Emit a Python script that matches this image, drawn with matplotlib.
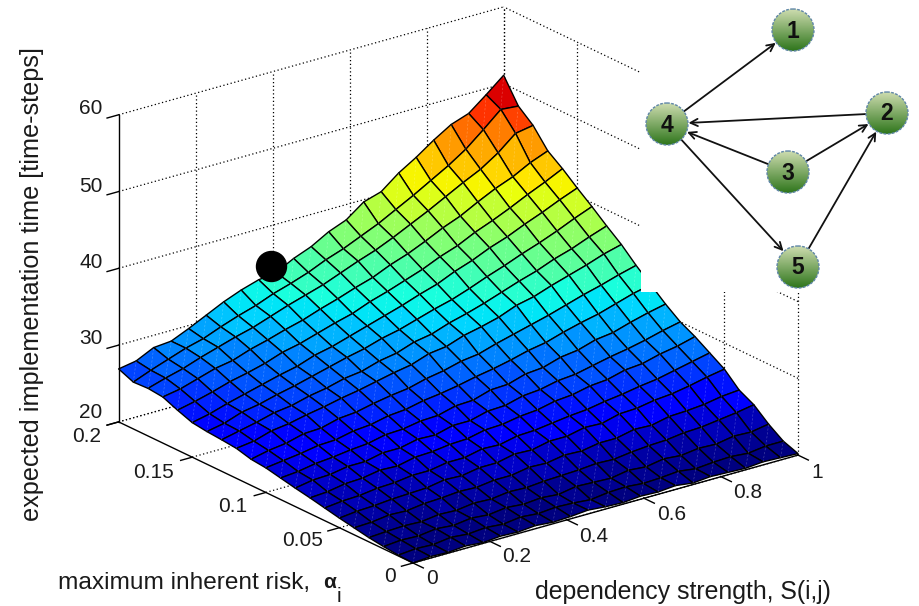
import matplotlib
matplotlib.use('Agg')
import matplotlib.pyplot as plt
import numpy as np
from matplotlib.patches import Circle, Rectangle
from mpl_toolkits.mplot3d import proj3d
from mpl_toolkits.mplot3d.art3d import Line3DCollection

plt.rcParams['font.family'] = ['Liberation Sans', 'DejaVu Sans']

# surface grid
dep_strength = [0.0, 0.0455, 0.0909, 0.1364, 0.1818, 0.2273, 0.2727, 0.3182, 0.3636, 0.4091, 0.4545, 0.5,
                0.5455, 0.5909, 0.6364, 0.6818, 0.7273, 0.7727, 0.8182, 0.8636, 0.9091, 0.9545, 1.0]
max_risk = [0.0, 0.01, 0.02, 0.03, 0.04, 0.05, 0.06, 0.07, 0.08, 0.09, 0.1,
            0.11, 0.12, 0.13, 0.14, 0.15, 0.16, 0.17, 0.18, 0.19, 0.2]

# expected time, one row per max_risk value
impl_time = [
    [20.0,20.2,20.1,20.3,20.1,20.3,20.2,20.4,20.2,20.3,20.5,20.3,20.2,20.4,20.3,20.5,20.2,20.4,20.3,20.2,20.4,20.3,20.2],
    [20.1,20.3,20.2,20.5,20.3,20.5,20.3,20.6,20.4,20.6,20.5,20.3,20.6,20.7,20.5,20.6,20.8,20.5,20.7,20.8,20.6,20.9,20.9],
    [20.3,20.5,20.4,20.7,20.5,20.8,20.6,20.9,20.7,20.9,20.7,21.1,21.0,20.9,21.3,21.1,21.5,21.3,21.6,21.5,21.9,21.8,22.2],
    [20.55,20.7,20.8,20.7,21.0,20.9,21.2,21.1,21.4,21.3,21.5,21.6,21.7,21.9,21.8,22.1,22.3,22.4,22.7,22.8,23.1,23.4,23.8],
    [20.9,21.0,21.3,21.2,21.5,21.6,21.8,21.7,22.0,22.0,22.4,22.3,22.7,22.6,23.0,23.0,23.5,23.4,23.9,24.0,24.2,24.6,24.8],
    [21.25,21.5,21.6,21.8,21.9,22.0,22.4,22.3,22.7,22.7,23.2,23.1,23.6,23.6,24.1,24.0,24.6,24.7,25.1,25.3,25.7,26.2,26.6],
    [21.65,21.9,22.0,22.3,22.4,22.7,22.7,23.1,23.1,23.6,23.5,24.0,24.1,24.4,24.7,24.9,25.3,25.6,26.0,26.3,26.8,27.3,27.8],
    [22.05,22.2,22.6,22.7,23.1,23.0,23.5,23.6,23.9,24.0,24.5,24.6,25.0,25.2,25.7,25.9,26.4,26.6,27.2,27.4,28.0,28.4,29.0],
    [22.4,22.8,22.9,23.3,23.3,23.8,23.8,24.3,24.2,24.8,24.8,25.4,25.5,26.1,26.3,26.8,27.0,27.5,28.0,28.4,28.9,29.5,30.0],
    [22.8,23.0,23.4,23.6,23.9,24.1,24.6,24.7,25.1,25.2,25.8,25.9,26.6,26.7,27.4,27.6,28.3,28.6,29.3,29.6,30.3,30.9,31.4],
    [23.2,23.5,23.8,24.2,24.3,24.8,25.0,25.5,25.7,26.2,26.5,26.9,27.4,27.8,28.3,28.9,29.3,30.0,30.6,31.1,31.8,32.5,33.0],
    [23.4,23.9,24.2,24.8,24.9,25.5,25.7,26.2,26.6,26.9,27.5,27.9,28.5,28.8,29.5,30.1,30.7,31.3,32.0,32.7,33.3,34.0,34.6],
    [23.9,24.2,24.9,25.2,25.7,26.1,26.6,27.0,27.5,28.0,28.4,29.2,29.5,30.3,30.8,31.4,32.3,32.8,33.6,34.3,35.0,35.8,36.4],
    [24.1,24.6,25.1,25.7,26.0,26.6,27.0,27.6,27.9,28.6,29.0,29.8,30.2,31.0,31.6,32.3,33.1,33.9,34.6,35.5,36.2,37.1,37.9],
    [24.25,24.7,25.5,25.9,26.5,27.0,27.6,28.2,28.8,29.3,30.0,30.5,31.2,31.9,32.5,33.3,34.2,35.0,35.9,36.7,37.6,38.6,39.5],
    [24.5,25.0,25.7,26.3,26.9,27.5,28.0,28.8,29.3,30.0,30.7,31.4,32.1,32.9,33.6,34.6,35.4,36.4,37.2,38.2,39.1,40.1,41.0],
    [25.2,25.7,26.3,27.0,27.5,28.1,28.9,29.4,30.1,30.8,31.4,32.3,33.0,33.8,34.6,35.6,36.4,37.5,38.4,39.4,40.5,41.5,42.6],
    [26.0,26.4,27.1,27.8,28.2,29.0,29.6,30.3,30.9,31.7,32.4,33.2,33.9,34.9,35.7,36.7,37.8,38.7,39.9,41.0,41.9,43.1,44.0],
    [26.2,26.9,27.5,28.3,29.0,29.7,30.3,31.1,31.9,32.6,33.3,34.2,35.1,35.9,36.9,38.0,39.1,40.3,41.5,42.6,44.1,46.0,46.4],
    [26.1,27.0,27.8,28.6,29.2,30.1,30.9,31.6,32.5,33.2,34.0,35.0,35.8,36.8,37.8,39.0,40.2,41.5,42.8,44.3,46.2,48.2,48.0],
    [26.9,27.3,28.4,28.6,29.6,30.7,31.8,32.7,33.4,33.7,34.9,35.8,37.1,38.0,39.7,40.4,42.2,43.6,45.2,46.6,47.4,49.2,51.1],
]

s_ticks = [0, 0.2, 0.4, 0.6, 0.8, 1]
risk_ticks = [0, 0.05, 0.1, 0.15, 0.2]
z_ticks = [20, 30, 40, 50, 60]

# the marked point on the surface
dot_s, dot_risk, dot_time = 0.397, 0.2, 34.75

# small graph in the corner
node_names = ['1', '2', '3', '4', '5']
node_x = [793, 887, 788, 667, 798]
node_y = [30, 113, 172, 124, 267]
edges = [('4', '1'), ('2', '4'), ('3', '4'), ('3', '2'), ('5', '2'), ('4', '5')]

W, H = 919, 606
fig = plt.figure(figsize=(W / 100, H / 100), dpi=100)
side = 1000
ax = fig.add_axes([(W - side) / 2 / W, (H - side) / 2 / H, side / W, side / H],
                  projection='3d', proj_type='ortho', computed_zorder=False)
ax.set_axis_off()
ax.patch.set_visible(False)
ax.set_xlim(0, 1)
ax.set_ylim(0, 0.2)
ax.set_zlim(20, 60)
ax.view_init(elev=21.5, azim=232.6)
ax.set_box_aspect((1, 1, 0.681), zoom=1)


def to_px(x, y, z):
    xp, yp, _ = proj3d.proj_transform(x, y, z, ax.get_proj())
    return ax.transData.transform((xp, yp))


# fit the box to the picture: origin corner and length of the S axis
fig.canvas.draw()
p0, p1 = to_px(0, 0, 20), to_px(1, 0, 20)
ax.set_box_aspect((1, 1, 0.681), zoom=np.hypot(385, 108) / np.hypot(*(p1 - p0)))
fig.canvas.draw()
p0 = to_px(0, 0, 20)
pos = ax.get_position()
ax.set_position([pos.x0 + (413 - p0[0]) / W, pos.y0 + (H - 563 - p0[1]) / H, pos.width, pos.height])

dot_style = dict(color='k', lw=0.9, ls=(0, (1, 2)), zorder=1, clip_on=False)
for s in s_ticks[1:]:
    ax.plot([s, s], [0.2, 0.2], [20, 60], **dot_style)
    ax.plot([s, s], [0, 0.2], [20, 20], **dot_style)
for r in risk_ticks:
    ax.plot([1, 1], [r, r], [20, 60], **dot_style)
    ax.plot([0, 1], [r, r], [20, 20], **dot_style)
for z in z_ticks:
    ax.plot([0, 1], [0.2, 0.2], [z, z], **dot_style)
    ax.plot([1, 1], [0, 0.2], [z, z], **dot_style)

X, Y = np.meshgrid(dep_strength, max_risk)
Z = np.array(impl_time)
jet = plt.get_cmap('jet', 64)
face_cols = jet((Z - 20) / (51 - 20))
surf = ax.plot_surface(X, Y, Z, facecolors=face_cols, rstride=1, cstride=1, shade=False,
                       linewidth=1.0, antialiased=True, zorder=2)
surf.set_edgecolor('k')

# thin light seam across each cell
seams = []
for i in range(Z.shape[0] - 1):
    for j in range(Z.shape[1] - 1):
        seams.append([(X[i, j], Y[i, j], Z[i, j]), (X[i + 1, j + 1], Y[i + 1, j + 1], Z[i + 1, j + 1])])
ax.add_collection3d(Line3DCollection(seams, colors='w', linewidths=0.4, alpha=0.3, zorder=3,
                                     linestyles=(0, (4, 3))))

# solid axis lines and ticks
line_style = dict(color='k', lw=1.0, zorder=4, clip_on=False)
ax.plot([0, 0], [0, 0.2], [20, 20], **line_style)
ax.plot([0, 1], [0, 0], [20, 20], **line_style)
ax.plot([0, 0], [0.2, 0.2], [20, 60], **line_style)
for s in s_ticks:
    ax.plot([s, s], [0, -0.007], [20, 20], **line_style)
for r in risk_ticks:
    ax.plot([0, -0.03], [r, r], [20, 20], **line_style)
for z in z_ticks:
    ax.plot([0, -0.03], [0.2, 0.2], [z, z], **line_style)

ax.plot([dot_s], [dot_risk], [dot_time], 'o', color='k', ms=21.6, mec='k', zorder=6, clip_on=False)

# overlay in picture pixels for the labels and the small graph
ov = fig.add_axes([0, 0, 1, 1])
ov.set_xlim(0, W)
ov.set_ylim(H, 0)
ov.axis('off')

txt = dict(ha='center', va='center', fontsize=15, color='#1a1a1a')
for lab, x, y in zip(['60', '50', '40', '30', '20'], [91, 91, 91, 91, 91], [108, 186, 263, 339, 413]):
    ov.text(x, y, lab, **txt)
for lab, x, y in zip(['0.2', '0.15', '0.1', '0.05', '0'], [87, 153, 233, 303, 390], [436, 472, 507, 541, 576]):
    ov.text(x, y, lab, **txt)
for lab, x, y in zip(['0', '0.2', '0.4', '0.6', '0.8', '1'], [432, 517, 594, 672, 748, 817],
                     [579, 557, 536, 515, 492, 472]):
    ov.text(x, y, lab, **txt)

ov.text(32, 284, 'expected implementation time [time-steps]', rotation=90, ha='center', va='center',
        fontsize=18.2, color='#1a1a1a')
ov.text(683, 592, 'dependency strength, S(i,j)', ha='center', va='center', fontsize=17.9, color='#1a1a1a')
ov.text(58, 583, 'maximum inherent risk,', ha='left', va='center', fontsize=17.6, color='#1a1a1a')
ov.text(330, 583, '\u03b1', ha='center', va='center', fontsize=15, fontweight='bold', color='#1a1a1a')
ov.text(339, 597, 'i', ha='center', va='center', fontsize=15, color='#1a1a1a')

# white box of the pasted graph hides the chart behind it
ov.add_patch(Rectangle((641, 0), W - 641, 292, fc='w', ec='none', zorder=5))

node_r = 21
grad = np.linspace(0, 1, 64)[:, None, None] * (np.array([[[47, 118, 28]]]) - np.array([[[205, 220, 175]]])) \
    + np.array([[[205, 220, 175]]])
grad = grad / 255.0
pos_by_name = {n: (x, y) for n, x, y in zip(node_names, node_x, node_y)}
for a, b in edges:
    ov.annotate('', xy=pos_by_name[b], xytext=pos_by_name[a], zorder=6,
                arrowprops=dict(arrowstyle='->', lw=1.3, color='#111111', shrinkA=15.5, shrinkB=15.5,
                                mutation_scale=13))
for n, x, y in zip(node_names, node_x, node_y):
    im = ov.imshow(grad, extent=(x - node_r, x + node_r, y + node_r, y - node_r), aspect='auto', zorder=7,
                   interpolation='bilinear')
    im.set_clip_path(Circle((x, y), node_r, transform=ov.transData))
    ov.add_patch(Circle((x, y), node_r, fc='none', ec='#5f86a8', lw=1.0, ls=(0, (2, 1)), zorder=8))
    ov.text(x, y + 1, n, ha='center', va='center', fontsize=16.5, fontweight='bold', color='#101010', zorder=9)
ov.set_xlim(0, W)
ov.set_ylim(H, 0)

fig.savefig('out.png', dpi=100)
